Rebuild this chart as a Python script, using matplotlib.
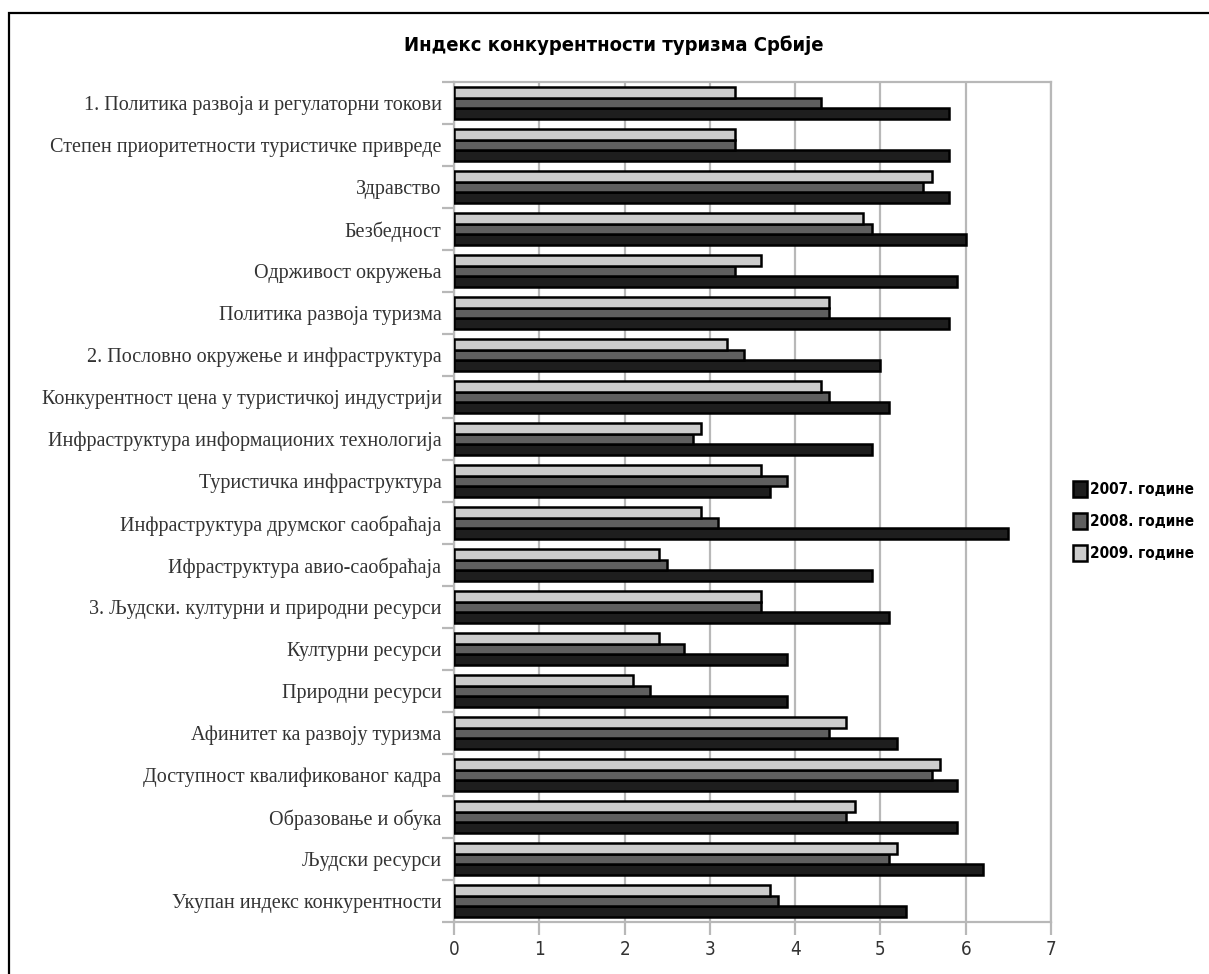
import numpy as np
import matplotlib
matplotlib.use("Agg")
import matplotlib.pyplot as plt
from matplotlib.patches import Rectangle, Patch

categories = [
    "1. Политика развоја и регулаторни токови",
    "Степен приоритетности туристичке привреде",
    "Здравство",
    "Безбедност",
    "Одрживост окружења",
    "Политика развоја туризма",
    "2. Пословно окружење и инфраструктура",
    "Конкурентност цена у туристичкој индустрији",
    "Инфраструктура информационих технологија",
    "Туристичка инфраструктура",
    "Инфраструктура друмског саобраћаја",
    "Ифраструктура авио-саобраћаја",
    "3. Људски. културни и природни ресурси",
    "Културни ресурси",
    "Природни ресурси",
    "Афинитет ка развоју туризма",
    "Доступност квалификованог кадра",
    "Образовање и обука",
    "Људски ресурси",
    "Укупан индекс конкурентности",
]

values_2007 = [5.8, 5.8, 5.8, 6.0, 5.9, 5.8, 5.0, 5.1, 4.9, 3.7,
               6.5, 4.9, 5.1, 3.9, 3.9, 5.2, 5.9, 5.9, 6.2, 5.3]
values_2008 = [4.3, 3.3, 5.5, 4.9, 3.3, 4.4, 3.4, 4.4, 2.8, 3.9,
               3.1, 2.5, 3.6, 2.7, 2.3, 4.4, 5.6, 4.6, 5.1, 3.8]
values_2009 = [3.3, 3.3, 5.6, 4.8, 3.6, 4.4, 3.2, 4.3, 2.9, 3.6,
               2.9, 2.4, 3.6, 2.4, 2.1, 4.6, 5.7, 4.7, 5.2, 3.7]

series_labels = ["2007. године", "2008. године", "2009. године"]
series_colors = ["#1e1e1e", "#5f5f5f", "#cccccc"]
x_ticks = [0, 1, 2, 3, 4, 5, 6, 7]

title = "Индекс конкурентности туризма Србије"

W, H = 1209, 974
fig = plt.figure(figsize=(W / 100, H / 100), dpi=100)
fig.patch.set_facecolor("white")

# outer frame around the chart
fig.add_artist(Rectangle((9 / W, -0.05), 1.2, 1 - 13 / H + 0.05,
                         transform=fig.transFigure, fill=False,
                         edgecolor="black", linewidth=1.6, zorder=0))

ax = fig.add_axes([454 / W, 1 - 922 / H, (1051 - 454) / W, (922 - 82) / H])

n = len(categories)
y = np.arange(n)
h = 0.25
grid_gray = "#b8b8b8"

series = [values_2007, values_2008, values_2009]
offsets = [h, 0.0, -h]
for vals, off, col in zip(series, offsets, series_colors):
    ax.barh(y + off, vals, height=h, color=col, edgecolor="black",
            linewidth=1.8, zorder=3)

ax.set_xlim(0, 7)
ax.set_ylim(n - 0.5, -0.5)
ax.set_xticks(x_ticks)
ax.set_xticklabels([str(t) for t in x_ticks], color="#333333",
                   fontsize=13.5, family="DejaVu Sans", fontstretch="condensed")
ax.set_yticks(y)
ax.set_yticklabels(categories, family="Liberation Serif", fontsize=14.5,
                   color="#333333")
ax.set_yticks(np.arange(n + 1) - 0.5, minor=True)
ax.tick_params(axis="y", which="major", length=0, pad=9)
ax.tick_params(axis="y", which="minor", length=9, width=1.6, color=grid_gray)
ax.tick_params(axis="x", which="major", length=9, width=1.6, color=grid_gray,
               pad=4)

ax.grid(axis="x", color=grid_gray, linewidth=1.6, zorder=0)
for s in ax.spines.values():
    s.set_color(grid_gray)
    s.set_linewidth(1.6)

fig.text(0.508, 1 - 45 / H, title, ha="center", va="center", fontsize=14.5,
         family="DejaVu Sans", fontstretch="condensed", weight="bold",
         color="black")

handles = [Patch(facecolor=c, edgecolor="black", linewidth=1.8)
           for c in series_colors]
leg = fig.legend(handles, series_labels, loc="upper left",
                 bbox_to_anchor=(1059 / W, 1 - 467 / H),
                 frameon=False, handlelength=0.95, handleheight=1.25,
                 handletextpad=0.15, labelspacing=1.05,
                 prop={"family": "DejaVu Sans", "weight": "bold",
                       "stretch": "condensed", "size": 11})

fig.savefig("out.png", dpi=100)
